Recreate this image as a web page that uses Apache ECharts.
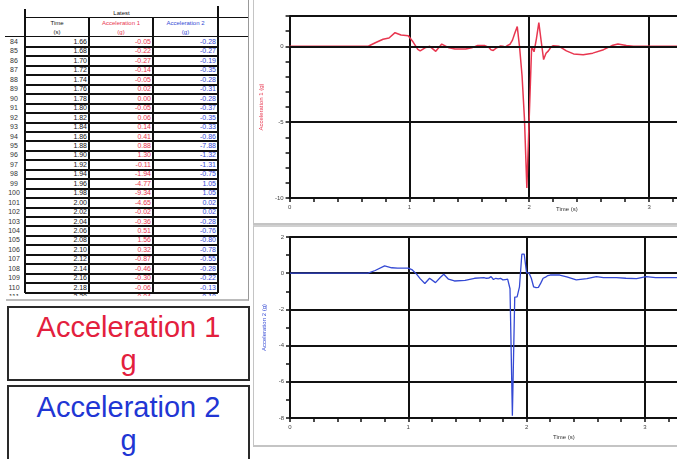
<!DOCTYPE html>
<html>
<head>
<meta charset="utf-8">
<script src="https://cdn.jsdelivr.net/npm/echarts@6/dist/echarts.min.js"></script>
<style>
  body { margin: 0; width: 677px; height: 459px; overflow: hidden; position: relative; background: #fff;
         font-family: 'Liberation Sans', Arial, sans-serif; }
  .abs { position: absolute; }
  #tablePanel { left: 0; top: 0; width: 250px; height: 296px; overflow: hidden; }
  .ln { position: absolute; background: #111; }
  .cell { position: absolute; font-size: 7px; line-height: 9px; white-space: nowrap; }
  .hd { position: absolute; font-size: 6px; line-height: 8px; text-align: center; white-space: nowrap; }
  .box { position: absolute; left: 7px; width: 239px; border: 2px solid #2a2a2a; text-align: center;
         font-size: 29px; line-height: 33px; overflow: hidden; }
  #plots { left: 250px; top: 0; width: 470px; height: 459px; }
  .panel { position: absolute; left: 253px; width: 440px; border-left: 1px solid #c4c4c4; }
</style>
</head>
<body>
<div id="tablePanel" class="abs"></div>
<div class="abs" style="left:6px;top:-1px;width:242px;height:300px;border-right:1px solid #999;border-bottom:2px solid #bbb;"></div>

<div class="box" style="top:306px;height:68px;color:#e3203d;padding-top:3px;">Acceleration 1<br><span style="text-decoration:underline;">g</span></div>
<div class="box" style="top:385px;height:80px;color:#2136d4;padding-top:4px;">Acceleration 2<br>g</div>

<div class="panel" style="top:0;height:223px;border-bottom:2px solid #c4c4c4;"></div>
<div class="panel" style="top:225px;height:218px;border-top:2px solid #d0d0d0;border-bottom:2px solid #c4c4c4;"></div>
<div id="plots" class="abs"></div>

<script>
// table: rows 84..111 of the logged data
var tableRows = [84, 85, 86, 87, 88, 89, 90, 91, 92, 93, 94, 95, 96, 97, 98, 99, 100, 101, 102, 103, 104, 105, 106, 107, 108, 109, 110, 111]
var tableTime = [1.66, 1.68, 1.70, 1.72, 1.74, 1.76, 1.78, 1.80, 1.82, 1.84, 1.86, 1.88, 1.90, 1.92, 1.94, 1.96, 1.98, 2.00, 2.02, 2.04, 2.06, 2.08, 2.10, 2.12, 2.14, 2.16, 2.18, 2.20]
var tableAcc1 = [-0.05, -0.22, -0.27, -0.14, -0.05, 0.02, 0.00, -0.05, 0.06, 0.14, 0.41, 0.88, 1.30, -0.11, -1.94, -4.77, -9.34, -4.65, -0.02, -0.36, 0.51, 1.56, 0.32, -0.87, -0.46, -0.30, -0.06, 0.04]
var tableAcc2 = [-0.28, -0.27, -0.19, -0.35, -0.28, -0.31, -0.28, -0.37, -0.35, -0.33, -0.86, -7.88, -1.32, -1.31, -0.75, 1.05, 1.05, 0.02, 0.02, -0.28, -0.76, -0.80, -0.78, -0.55, -0.28, -0.22, -0.13, -0.10]

var acc1LeadT = [0, 0.2, 0.4, 0.6, 0.66, 0.72, 0.78, 0.83, 0.88, 0.93, 0.99, 1.03, 1.07, 1.09, 1.13, 1.17, 1.22, 1.27, 1.33, 1.38, 1.47, 1.52, 1.57, 1.63]
var acc1Lead = [0, 0.01, 0, 0.01, 0.02, 0.25, 0.47, 0.55, 0.9, 0.75, 0.7, 0.3, -0.2, -0.3, -0.1, 0, -0.33, 0.15, -0.1, -0.18, -0.18, -0.1, 0.05, 0.05]
var acc1TailT = [2.25, 2.31, 2.37, 2.45, 2.53, 2.62, 2.69, 2.74, 2.81, 2.87, 3.0, 3.2, 3.5]
var acc1Tail = [0, -0.3, -0.5, -0.55, -0.45, -0.22, 0.05, 0.15, 0.05, 0, 0, 0, 0]

var acc2LeadT = [0, 0.2, 0.4, 0.6, 0.66, 0.72, 0.80, 0.86, 0.91, 1.0, 1.03, 1.07, 1.10, 1.14, 1.18, 1.23, 1.27, 1.30, 1.34, 1.39, 1.48, 1.56, 1.64]
var acc2Lead = [0, 0, 0, 0, 0, 0.15, 0.4, 0.3, 0.28, 0.28, 0.2, -0.05, -0.3, -0.57, -0.28, -0.52, -0.24, -0.06, -0.33, -0.43, -0.4, -0.28, -0.24]
var acc2TailT = [2.22, 2.28, 2.34, 2.42, 2.51, 2.59, 2.65, 2.76, 2.84, 2.93, 3.01, 3.09, 3.24, 3.5]
var acc2Tail = [-0.1, -0.1, -0.2, -0.37, -0.3, -0.19, -0.24, -0.24, -0.28, -0.3, -0.19, -0.24, -0.24, -0.24]

var xTicks = ['0', '1', '2', '3']
var acc1Gridlines = [2, 0, -5]
var RED = '#e8364f'
var BLUE = '#3449d4'

// ---- table ----
var panel = document.getElementById('tablePanel')
function addLine(x, y, w, h, color) {
    var d = document.createElement('div')
    d.className = 'ln'
    d.style.left = x + 'px'; d.style.top = y + 'px'
    d.style.width = w + 'px'; d.style.height = h + 'px'
    if (color) d.style.background = color
    panel.appendChild(d)
}
function addText(cls, txt, x, y, w, align, color) {
    var d = document.createElement('div')
    d.className = cls
    d.textContent = txt
    d.style.left = x + 'px'; d.style.top = y + 'px'; d.style.width = w + 'px'
    d.style.textAlign = align
    if (color) d.style.color = color
    panel.appendChild(d)
}
var rowTop = 36.5, rowH = 9.45
addLine(24, 9, 2, 284)
addLine(88, 17, 2, 276)
addLine(152, 17, 2, 276)
addLine(217, 6, 2, 287)
addLine(25, 17, 223, 1)
addLine(5, 36, 243, 1)
addText('hd', 'Latest', 25, 9, 193, 'center', '#111')
addText('hd', 'Time', 25, 19, 64, 'center', '#111')
addText('hd', '(s)', 25, 28, 64, 'center', '#111')
addText('hd', 'Acceleration 1', 89, 19, 64, 'center', RED)
addText('hd', '(g)', 89, 28, 64, 'center', RED)
addText('hd', 'Acceleration 2', 153, 19, 65, 'center', BLUE)
addText('hd', '(g)', 153, 28, 65, 'center', BLUE)
tableRows.forEach(function (r, i) {
    var y = rowTop + i * rowH
    addLine(25, Math.round(y + rowH), 193, 1.5)
    addText('cell', String(r), 4, y + 0.5, 20, 'center', '#333')
    addText('cell', tableTime[i].toFixed(2), 25, y + 0.5, 62, 'right', '#111')
    addText('cell', tableAcc1[i].toFixed(2), 89, y + 0.5, 62, 'right', RED)
    addText('cell', tableAcc2[i].toFixed(2), 153, y + 0.5, 63, 'right', BLUE)
})

// ---- plots ----
function pairs(ts, vs) {
    return ts.map(function (t, i) { return [t, vs[i]] })
}
var acc1Data = pairs(acc1LeadT, acc1Lead).concat(pairs(tableTime, tableAcc1), pairs(acc1TailT, acc1Tail))
var acc2Data = pairs(acc2LeadT, acc2Lead).concat(pairs(tableTime, tableAcc2), pairs(acc2TailT, acc2Tail))

var lbl = { fontSize: 6, color: '#444', fontFamily: 'Liberation Sans' }
var tickStyle = { color: '#111', width: 1.5 }
var gridStyle = { color: '#111', width: 2 }
function timeAxis(g) {
    return {
        gridIndex: g, type: 'value', min: 0, max: 3.5, interval: 1,
        axisLine: { show: true, onZero: false, lineStyle: gridStyle },
        axisTick: { show: true, length: 4, lineStyle: tickStyle },
        minorTick: { show: true, splitNumber: 5, length: 4, lineStyle: tickStyle },
        splitLine: { show: true, lineStyle: gridStyle },
        axisLabel: Object.assign({ margin: 6, formatter: function (v) { return xTicks[v] || '' } }, lbl)
    }
}
function nameStyle(color) {
    return { color: color, fontSize: 6, fontFamily: 'Liberation Sans' }
}

var chart = echarts.init(document.getElementById('plots'))
chart.setOption({
    animation: false,
    title: [
        { text: 'Time (s)', left: 301, top: 201, textStyle: { fontSize: 6, color: '#333', fontWeight: 'normal', fontFamily: 'Liberation Sans' } },
        { text: 'Time (s)', left: 298, top: 429, textStyle: { fontSize: 6, color: '#333', fontWeight: 'normal', fontFamily: 'Liberation Sans' } }
    ],
    grid: [
        { left: 39, top: 16, width: 420, height: 182 },
        { left: 40, top: 237, width: 414, height: 181 }
    ],
    xAxis: [timeAxis(0), timeAxis(1)],
    yAxis: [
        {
            // ticks every 1 g, labels and gridlines only every 5 g
            gridIndex: 0, type: 'value', min: -10, max: 2, interval: 1,
            name: 'Acceleration 1 (g)', nameLocation: 'middle', nameGap: 23, nameTextStyle: nameStyle(RED),
            axisLine: { show: true, lineStyle: gridStyle },
            axisTick: { show: true, length: 4, lineStyle: tickStyle },
            splitLine: { show: false },
            axisLabel: Object.assign({ margin: 6, formatter: function (v) { return v % 5 === 0 ? String(v) : '' } }, lbl)
        },
        {
            gridIndex: 1, type: 'value', min: -8, max: 2, interval: 2,
            name: 'Acceleration 2 (g)', nameLocation: 'middle', nameGap: 23, nameTextStyle: nameStyle(BLUE),
            axisLine: { show: true, lineStyle: gridStyle },
            axisTick: { show: true, length: 4, lineStyle: tickStyle },
            minorTick: { show: true, splitNumber: 2, length: 4, lineStyle: tickStyle },
            splitLine: { show: true, lineStyle: gridStyle },
            axisLabel: Object.assign({ margin: 6 }, lbl)
        }
    ],
    series: [
        {
            name: 'Acceleration 1', type: 'line', xAxisIndex: 0, yAxisIndex: 0, data: acc1Data,
            showSymbol: false, lineStyle: { color: RED, width: 1.5 }, z: 3,
            markLine: {
                silent: true, symbol: 'none', label: { show: false },
                lineStyle: { color: '#111', width: 2, type: 'solid' },
                data: acc1Gridlines.map(function (v) { return { yAxis: v } })
            }
        },
        {
            name: 'Acceleration 2', type: 'line', xAxisIndex: 1, yAxisIndex: 1, data: acc2Data,
            showSymbol: false, lineStyle: { color: BLUE, width: 1.3 }, z: 3
        }
    ]
})
</script>
</body>
</html>
